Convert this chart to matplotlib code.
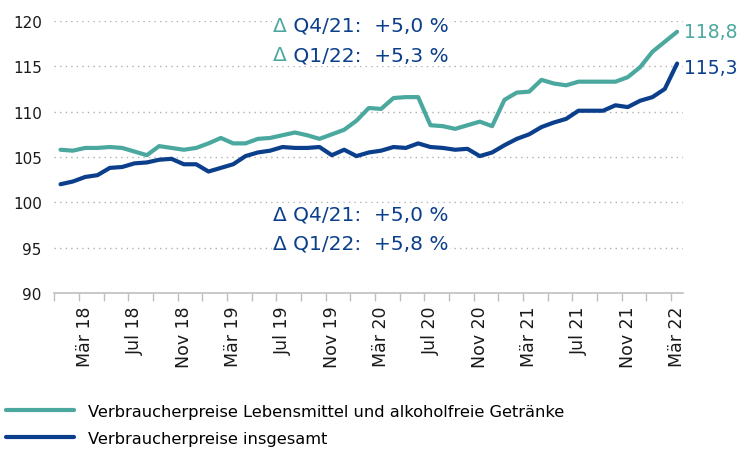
import numpy as np
import matplotlib
matplotlib.use("Agg")
import matplotlib.pyplot as plt

# Monatswerte Jan 2018 - Mär 2022
lebensmittel = [105.8, 105.7, 106.0, 106.0, 106.1, 106.0, 105.6, 105.2, 106.2, 106.0,
                105.8, 106.0, 106.5, 107.1, 106.5, 106.5, 107.0, 107.1, 107.4, 107.7,
                107.4, 107.0, 107.5, 108.0, 109.0, 110.4, 110.3, 111.5, 111.6, 111.6,
                108.5, 108.4, 108.1, 108.5, 108.9, 108.4, 111.3, 112.1, 112.2, 113.5,
                113.1, 112.9, 113.3, 113.3, 113.3, 113.3, 113.8, 114.9, 116.6, 117.7,
                118.8]
insgesamt = [102.0, 102.3, 102.8, 103.0, 103.8, 103.9, 104.3, 104.4, 104.7, 104.8,
             104.2, 104.2, 103.4, 103.8, 104.2, 105.1, 105.5, 105.7, 106.1, 106.0,
             106.0, 106.1, 105.2, 105.8, 105.1, 105.5, 105.7, 106.1, 106.0, 106.5,
             106.1, 106.0, 105.8, 105.9, 105.1, 105.5, 106.3, 107.0, 107.5, 108.3,
             108.8, 109.2, 110.1, 110.1, 110.1, 110.7, 110.5, 111.2, 111.6, 112.5,
             115.3]
tick_labels = ["Mär 18", "Jul 18", "Nov 18", "Mär 19", "Jul 19", "Nov 19", "Mär 20",
               "Jul 20", "Nov 20", "Mär 21", "Jul 21", "Nov 21", "Mär 22"]
label_names = ["Verbraucherpreise Lebensmittel und alkoholfreie Getränke",
               "Verbraucherpreise insgesamt"]
text_top = ["Q4/21:  +5,0 %", "Q1/22:  +5,3 %"]
text_bottom = ["Q4/21:  +5,0 %", "Q1/22:  +5,8 %"]

teal = "#4aa89f"
blue = "#0b3f8c"
grey = "#bfbfbf"

plt.rcParams['font.family'] = ['DejaVu Sans']

x = np.arange(len(lebensmittel))

fig = plt.figure(figsize=(7.55, 4.56), dpi=100)
ax = fig.add_axes([0.072, 0.355, 0.833, 0.597])

l1, = ax.plot(x, lebensmittel, color=teal, lw=3, solid_capstyle='round', zorder=3)
l2, = ax.plot(x, insgesamt, color=blue, lw=3, solid_capstyle='round', zorder=3)

ax.set_xlim(-0.5, len(x) - 0.5)
ax.set_ylim(90, 120)
ax.set_yticks(np.arange(90, 121, 5))
ax.tick_params(axis='y', length=0, labelsize=11, colors='#1a1a1a', pad=9)

ax.set_xticks(np.arange(2, len(x), 4))
ax.set_xticklabels(tick_labels, rotation=90, fontsize=12.5, color='#1a1a1a')
ax.set_xticks(np.arange(-0.5, len(x) - 0.5, 2), minor=True)
ax.tick_params(axis='x', which='major', length=0, pad=9)
ax.tick_params(axis='x', which='minor', length=6, color=grey, width=1)

for s in ['top', 'right', 'left']:
    ax.spines[s].set_visible(False)
ax.spines['bottom'].set_color(grey)
ax.spines['bottom'].set_linewidth(1.2)

for yv in np.arange(95, 121, 5):
    ax.axhline(yv, color='#b0b0b0', lw=1, ls=(0, (1, 3)), zorder=1)

# Endwerte
ax.annotate("118,8", xy=(x[-1], lebensmittel[-1]), xytext=(5, 0),
            textcoords='offset points', color=teal, fontsize=13.5, va='center')
ax.annotate("115,3", xy=(x[-1], insgesamt[-1]), xytext=(5, -3),
            textcoords='offset points', color=blue, fontsize=13.5, va='center')

# Veränderungsraten
box = dict(facecolor='white', edgecolor='none', pad=1)
for i, t in enumerate(text_top):
    d = fig.text(0.362, 0.942 - i * 0.064, "Δ", color=teal, fontsize=14.5,
                 va='center', bbox=box)
    ax.annotate(" " + t, xy=(1, 0), xycoords=d, va='bottom', color=blue,
                fontsize=14.5, bbox=box)
for i, t in enumerate(text_bottom):
    fig.text(0.362, 0.528 - i * 0.063, "Δ " + t, color=blue, fontsize=14.5,
             va='center', bbox=box)

fig.legend([l1, l2], label_names, loc='lower left', bbox_to_anchor=(-0.012, -0.012),
           frameon=False, fontsize=11.7, handlelength=4.2, handletextpad=0.9,
           labelspacing=0.75)

fig.savefig("out.png", dpi=100)
